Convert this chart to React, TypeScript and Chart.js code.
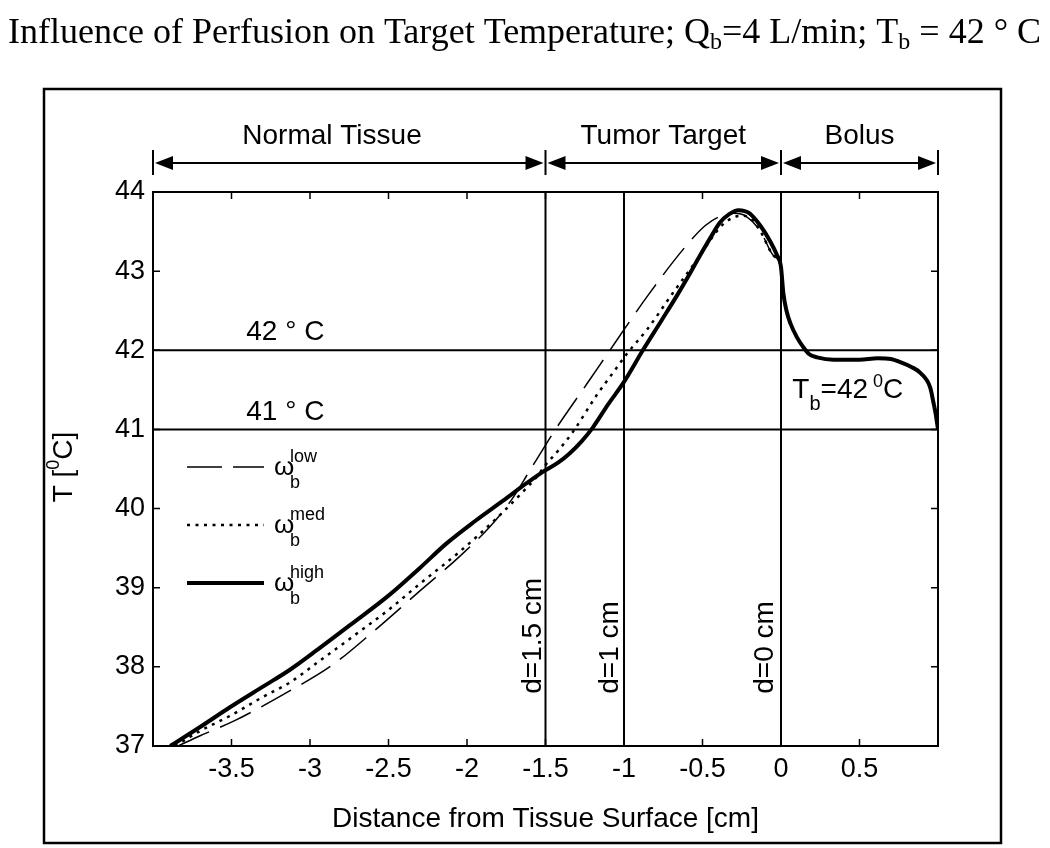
import React, { useEffect, useRef } from "react";
import { Chart, registerables } from "chart.js";

Chart.register(...registerables);

// ---------- data ----------
const highX = [-3.89, -3.7, -3.51, -3.3, -3.13, -2.95, -2.75, -2.5, -2.3, -2.13, -1.95, -1.77, -1.62, -1.52, -1.42, -1.345, -1.27, -1.2, -1.1, -1.0, -0.88, -0.76, -0.66, -0.58, -0.515, -0.45, -0.39, -0.33, -0.27, -0.2, -0.13, -0.07, -0.025];
const highY = [37.0, 37.24, 37.49, 37.75, 37.96, 38.22, 38.52, 38.9, 39.25, 39.56, 39.84, 40.1, 40.32, 40.46, 40.58, 40.7, 40.85, 41.02, 41.32, 41.6, 42.0, 42.38, 42.7, 42.97, 43.2, 43.42, 43.61, 43.72, 43.77, 43.73, 43.57, 43.38, 43.2];

const medX = [-3.86, -3.7, -3.51, -3.3, -3.13, -2.95, -2.75, -2.5, -2.3, -2.05, -1.81, -1.65, -1.556, -1.5, -1.42, -1.325, -1.175, -1.05, -0.98, -0.85, -0.69, -0.515, -0.43, -0.37, -0.3, -0.24, -0.18, -0.13, -0.05];
const medY = [37.0, 37.19, 37.38, 37.62, 37.8, 38.06, 38.35, 38.72, 39.05, 39.45, 39.88, 40.2, 40.4, 40.55, 40.73, 40.97, 41.43, 41.77, 41.96, 42.27, 42.72, 43.2, 43.45, 43.59, 43.68, 43.7, 43.64, 43.5, 43.2];

const lowX = [-3.84, -3.7, -3.48, -3.18, -2.86, -2.6, -2.3, -2.05, -1.85, -1.72, -1.6, -1.44, -1.235, -1.045, -0.845, -0.6, -0.48, -0.38, -0.3, -0.22, -0.13, -0.05];
const lowY = [37.0, 37.13, 37.32, 37.64, 38.02, 38.44, 38.96, 39.39, 39.78, 40.1, 40.48, 40.99, 41.58, 42.13, 42.7, 43.33, 43.58, 43.7, 43.73, 43.69, 43.5, 43.2];

// shared bolus part (all three curves coincide)
const bolusX = [0, 0.015, 0.035, 0.06, 0.1, 0.142, 0.18, 0.23, 0.335, 0.5, 0.615, 0.7, 0.76, 0.83, 0.89, 0.95, 0.97, 0.985, 1.0];
const bolusY = [43.05, 42.72, 42.5, 42.34, 42.17, 42.04, 41.95, 41.91, 41.88, 41.88, 41.9, 41.89, 41.85, 41.79, 41.71, 41.53, 41.35, 41.2, 41.0];

const xTicks = [-3.5, -3, -2.5, -2, -1.5, -1, -0.5, 0, 0.5];
const yTicks = [37, 38, 39, 40, 41, 42, 43, 44];
const boundaryX = [-1.5, -1, 0];
const thresholdY = [41, 42];
const regionEdges = [-4, -1.5, 0, 1];
const regionNames = ["Normal Tissue", "Tumor Target", "Bolus"];
const regionLabelX = [-2.86, -0.75, 0.5];
const depthLabels = ["d=1.5 cm", "d=1 cm", "d=0 cm"];
const depthLabelX = [-1.53, -1.038, -0.049];

const SANS = '"Liberation Sans", Arial, Helvetica, sans-serif';
const SERIF = '"Liberation Serif", "Times New Roman", serif';

type Part = { t: string; size: number; dy?: number };

function drawParts(ctx: CanvasRenderingContext2D, x: number, y: number, parts: Part[], family: string) {
  let cx = x;
  for (const p of parts) {
    ctx.font = `${p.size}px ${family}`;
    ctx.fillText(p.t, cx, y + (p.dy || 0));
    cx += ctx.measureText(p.t).width;
  }
  return cx - x;
}
function measureParts(ctx: CanvasRenderingContext2D, parts: Part[], family: string) {
  let w = 0;
  for (const p of parts) {
    ctx.font = `${p.size}px ${family}`;
    w += ctx.measureText(p.t).width;
  }
  return w;
}

const pts = (xs: number[], ys: number[]) => xs.map((x, i) => ({ x, y: ys[i] }));

const decorPlugin = {
  id: "decor",
  beforeDraw(chart: any) {
    const ctx = chart.ctx;
    ctx.save();
    ctx.fillStyle = "#fff";
    ctx.fillRect(0, 0, chart.width, chart.height);
    ctx.restore();
  },
  afterDraw(chart: any) {
    const ctx: CanvasRenderingContext2D = chart.ctx;
    const { left, right, top, bottom } = chart.chartArea;
    const xs = chart.scales.x;
    const ys = chart.scales.y;
    ctx.save();
    ctx.fillStyle = "#000";
    ctx.strokeStyle = "#000";
    ctx.textBaseline = "alphabetic";
    ctx.textAlign = "left";

    // plot frame
    ctx.lineWidth = 2;
    ctx.strokeRect(left, top, right - left, bottom - top);

    // inner ticks
    ctx.lineWidth = 1.5;
    const tl = 7;
    ctx.beginPath();
    for (const v of xTicks) {
      const px = xs.getPixelForValue(v);
      ctx.moveTo(px, bottom); ctx.lineTo(px, bottom - tl);
      ctx.moveTo(px, top); ctx.lineTo(px, top + tl);
    }
    for (const v of yTicks) {
      const py = ys.getPixelForValue(v);
      ctx.moveTo(left, py); ctx.lineTo(left + tl, py);
      ctx.moveTo(right, py); ctx.lineTo(right - tl, py);
    }
    ctx.stroke();

    // outer figure frame
    ctx.lineWidth = 2.5;
    ctx.strokeRect(44, 89, 957, 754);

    // title
    drawParts(ctx, 8, 43, [
      { t: "Influence of Perfusion on Target Temperature; Q", size: 36 },
      { t: "b", size: 24, dy: 6 },
      { t: "=4 L/min; T", size: 36 },
      { t: "b", size: 24, dy: 6 },
      { t: " = 42 ° C", size: 36 },
    ], SERIF);

    // y-axis title (rotated)
    const yParts: Part[] = [
      { t: "T [", size: 28 },
      { t: "0", size: 18, dy: -13 },
      { t: "C]", size: 28 },
    ];
    const yw = measureParts(ctx, yParts, SANS);
    ctx.save();
    ctx.translate(72, 467);
    ctx.rotate(-Math.PI / 2);
    drawParts(ctx, -yw / 2, 0, yParts, SANS);
    ctx.restore();

    // region arrows
    const ay = 163;
    ctx.lineWidth = 2;
    const edgesPx = regionEdges.map((v) => xs.getPixelForValue(v));
    ctx.beginPath();
    for (const e of edgesPx) {
      ctx.moveTo(e, 150); ctx.lineTo(e, 175);
    }
    ctx.stroke();
    for (let i = 0; i < regionNames.length; i++) {
      const a = edgesPx[i] + 2;
      const b = edgesPx[i + 1] - 2;
      ctx.beginPath();
      ctx.moveTo(a + 10, ay); ctx.lineTo(b - 10, ay);
      ctx.stroke();
      ctx.beginPath();
      ctx.moveTo(a, ay); ctx.lineTo(a + 18, ay - 7); ctx.lineTo(a + 18, ay + 7); ctx.closePath();
      ctx.fill();
      ctx.beginPath();
      ctx.moveTo(b, ay); ctx.lineTo(b - 18, ay - 7); ctx.lineTo(b - 18, ay + 7); ctx.closePath();
      ctx.fill();
      ctx.font = `28px ${SANS}`;
      ctx.textAlign = "center";
      ctx.fillText(regionNames[i], xs.getPixelForValue(regionLabelX[i]), 144);
      ctx.textAlign = "left";
    }

    // threshold labels
    drawParts(ctx, xs.getPixelForValue(-3.406), ys.getPixelForValue(42.126), [{ t: "42 ° C", size: 28 }], SANS);
    drawParts(ctx, xs.getPixelForValue(-3.406), ys.getPixelForValue(41.115), [{ t: "41 ° C", size: 28 }], SANS);
    drawParts(ctx, xs.getPixelForValue(0.072), ys.getPixelForValue(41.393), [
      { t: "T", size: 28 },
      { t: "b", size: 20, dy: 12 },
      { t: "=42", size: 28 },
      { t: " 0", size: 18, dy: -11 },
      { t: "C", size: 28 },
    ], SANS);

    // depth labels (rotated)
    for (let i = 0; i < depthLabels.length; i++) {
      ctx.save();
      ctx.translate(xs.getPixelForValue(depthLabelX[i]), ys.getPixelForValue(37.66));
      ctx.rotate(-Math.PI / 2);
      ctx.font = `28px ${SANS}`;
      ctx.fillText(depthLabels[i], 0, 0);
      ctx.restore();
    }

    // legend
    const lx0 = left + 34;
    const lx1 = left + 111;
    const entries = [
      { sup: "low", width: 1.5, dash: [35, 11] },
      { sup: "med", width: 2.5, dash: [3, 5.5] },
      { sup: "high", width: 4, dash: [] as number[] },
    ];
    entries.forEach((e, i) => {
      const ly = top + 275 + i * 58;
      ctx.save();
      ctx.lineWidth = e.width;
      ctx.setLineDash(e.dash);
      ctx.beginPath();
      ctx.moveTo(lx0, ly); ctx.lineTo(lx1, ly);
      ctx.stroke();
      ctx.restore();
      ctx.font = `26px ${SANS}`;
      ctx.fillText("ω", left + 121, ly + 8);
      ctx.font = `18px ${SANS}`;
      ctx.fillText(e.sup, left + 137, ly - 5);
      ctx.fillText("b", left + 137, ly + 21);
    });

    ctx.restore();
  },
};

export default function App() {
  const ref = useRef<HTMLCanvasElement>(null);
  useEffect(() => {
    const lineDs = (data: any[]) => ({
      data,
      borderColor: "#000",
      borderWidth: 2,
      pointRadius: 0,
      fill: false,
      tension: 0,
    });
    const curve = (data: any[], width: number, dash: number[]) => ({
      data,
      borderColor: "#000",
      borderWidth: width,
      borderDash: dash,
      pointRadius: 0,
      cubicInterpolationMode: "monotone",
      fill: false,
    });
    const datasets: any[] = [
      { label: "ω_b^high", ...curve(pts(highX.concat(bolusX), highY.concat(bolusY)), 4, []) },
      { label: "ω_b^med", ...curve(pts(medX.concat(bolusX), medY.concat(bolusY)), 2.5, [3, 5.5]) },
      { label: "ω_b^low", ...curve(pts(lowX.concat(bolusX), lowY.concat(bolusY)), 1.5, [34, 12]) },
      ...boundaryX.map((v) => lineDs([{ x: v, y: 37 }, { x: v, y: 44 }])),
      ...thresholdY.map((v) => lineDs([{ x: -4, y: v }, { x: 1, y: v }])),
    ];
    const chart = new Chart(ref.current as HTMLCanvasElement, {
      type: "line",
      data: { datasets },
      options: {
        animation: false,
        responsive: false,
        parsing: false as any,
        layout: { padding: { left: 0, right: 112, top: 192, bottom: 0 } },
        plugins: {
          legend: { display: false },
          title: { display: false },
          tooltip: { enabled: false },
        },
        scales: {
          x: {
            type: "linear",
            min: -4,
            max: 1,
            afterFit: (s: any) => { s.height = 102; },
            afterBuildTicks: (s: any) => { s.ticks = xTicks.map((value) => ({ value })); },
            grid: { display: false, drawTicks: false },
            border: { display: false },
            ticks: {
              color: "#000",
              font: { family: SANS, size: 27 },
              padding: 7,
              maxRotation: 0,
              autoSkip: false,
              callback: (v: any) => String(v),
            },
            title: {
              display: true,
              text: "Distance from Tissue Surface [cm]",
              color: "#000",
              font: { family: SANS, size: 28 },
              padding: { top: 0, bottom: 12 },
            },
          },
          y: {
            type: "linear",
            min: 37,
            max: 44,
            afterFit: (s: any) => { s.width = 153; },
            afterBuildTicks: (s: any) => { s.ticks = yTicks.map((value) => ({ value })); },
            grid: { display: false, drawTicks: false },
            border: { display: false },
            ticks: {
              color: "#000",
              font: { family: SANS, size: 27 },
              padding: 8,
              autoSkip: false,
              callback: (v: any) => String(v),
            },
          },
        },
      } as any,
      plugins: [decorPlugin],
    });
    return () => chart.destroy();
  }, []);
  return (
    <div style={{ position: "absolute", left: 0, top: 0, width: 1050, height: 848, background: "#fff" }}>
      <canvas ref={ref} width={1050} height={848} style={{ display: "block", width: 1050, height: 848 }} />
    </div>
  );
}
